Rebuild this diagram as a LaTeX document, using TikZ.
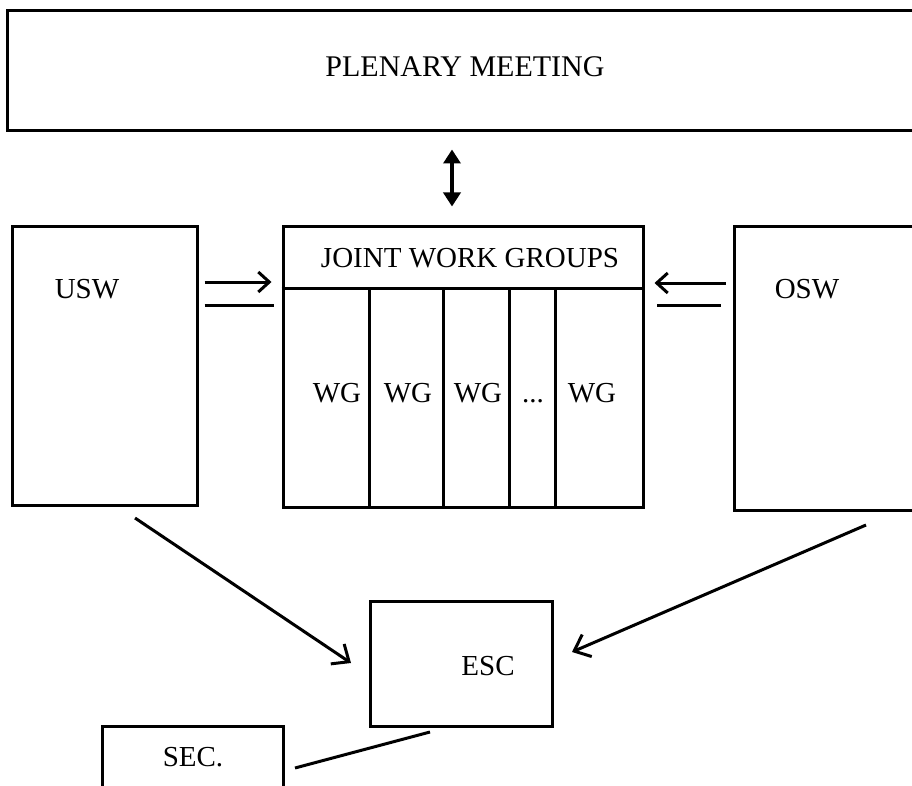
\documentclass[tikz,border=0pt]{standalone}
\usepackage{fontspec}
\setmainfont{Liberation Serif}
\usetikzlibrary{arrows.meta}
\begin{document}
\begin{tikzpicture}[x=1pt,y=-1pt,line width=3pt,
  box/.style={draw,rectangle,inner sep=0pt,line width=3pt},
  lbl/.style={font=\fontsize{29}{31}\selectfont,inner sep=0pt,anchor=base},
  barb/.style={-{Straight Barb[length=11pt,width=20pt]}},
  bigbarb/.style={-{Straight Barb[length=14pt,width=24pt]}},
  dbl/.style={{Triangle[length=14pt,width=17pt]}-{Triangle[length=14pt,width=17pt]},line width=3.5pt}]
\useasboundingbox (0,0) rectangle (912,786);
\clip (0,0) rectangle (912,786);
\fill[white] (0,0) rectangle (912,786);

% boxes
\node[box,minimum width=923pt,minimum height=120pt] (plen) at (468.5,71) {};
\node[box,minimum width=185pt,minimum height=278pt] (usw) at (104.5,366) {};
\node[box,minimum width=360pt,minimum height=280pt] (jwg) at (463,367) {};
\node[box,minimum width=216pt,minimum height=283pt] (osw) at (842,368.5) {};
\node[box,minimum width=182pt,minimum height=125pt] (esc) at (461,663.5) {};
\node[box,minimum width=181pt,minimum height=84pt] (sec) at (192.5,768) {};

% inner structure of joint work groups
\coordinate (hl) at (0,288);
\draw (jwg.west |- hl) -- (jwg.east |- hl);
\foreach \x in {369,443,509,555} \draw (\x,288) -- (\x,507);

% labels
\node[lbl,font=\fontsize{30}{32}\selectfont] (plent) at (465,77) {PLENARY MEETING};
\node[lbl] (uswt) at (87,298) {USW};
\node[lbl] (oswt) at (807,298) {OSW};
\node[lbl] (jwgt) at (470,267) {JOINT WORK GROUPS};
\node[lbl] (wg1) at (337,402) {WG};
\node[lbl] (wg2) at (408,402) {WG};
\node[lbl] (wg3) at (478,402) {WG};
\node[lbl] (wgd) at (533,402) {...};
\node[lbl] (wg5) at (592,402) {WG};
\node[lbl] (esct) at (488,675) {ESC};
\node[lbl] (sect) at (193,766) {SEC.};

% connectors
\coordinate (dx) at (452,0);
\draw[dbl,shorten <=17pt,shorten >=19pt] (plen.south -| dx) -- (jwg.north -| dx);

\coordinate (a1) at (0,282);
\coordinate (a2) at (0,305);
\coordinate (a3) at (0,283);
\draw[barb,shorten <=6pt,shorten >=10pt] (usw.east |- a1) -- (jwg.west |- a1);
\draw[shorten <=6pt,shorten >=8pt] (usw.east |- a2) -- (jwg.west |- a2);
\draw[barb,shorten <=7pt,shorten >=10pt] (osw.west |- a3) -- (jwg.east |- a3);
\draw[shorten <=12pt,shorten >=12pt] (osw.west |- a2) -- (jwg.east |- a2);

\coordinate (u1) at (135,518);
\coordinate (u2) at (351,663);
\draw[bigbarb] (u1) -- (u2);
\coordinate (o1) at (866,525);
\coordinate (o2) at (572,652);
\draw[bigbarb] (o1) -- (o2);
\coordinate (s1) at (295,768);
\coordinate (s2) at (430,732);
\draw (s1) -- (s2);
\end{tikzpicture}
\end{document}
